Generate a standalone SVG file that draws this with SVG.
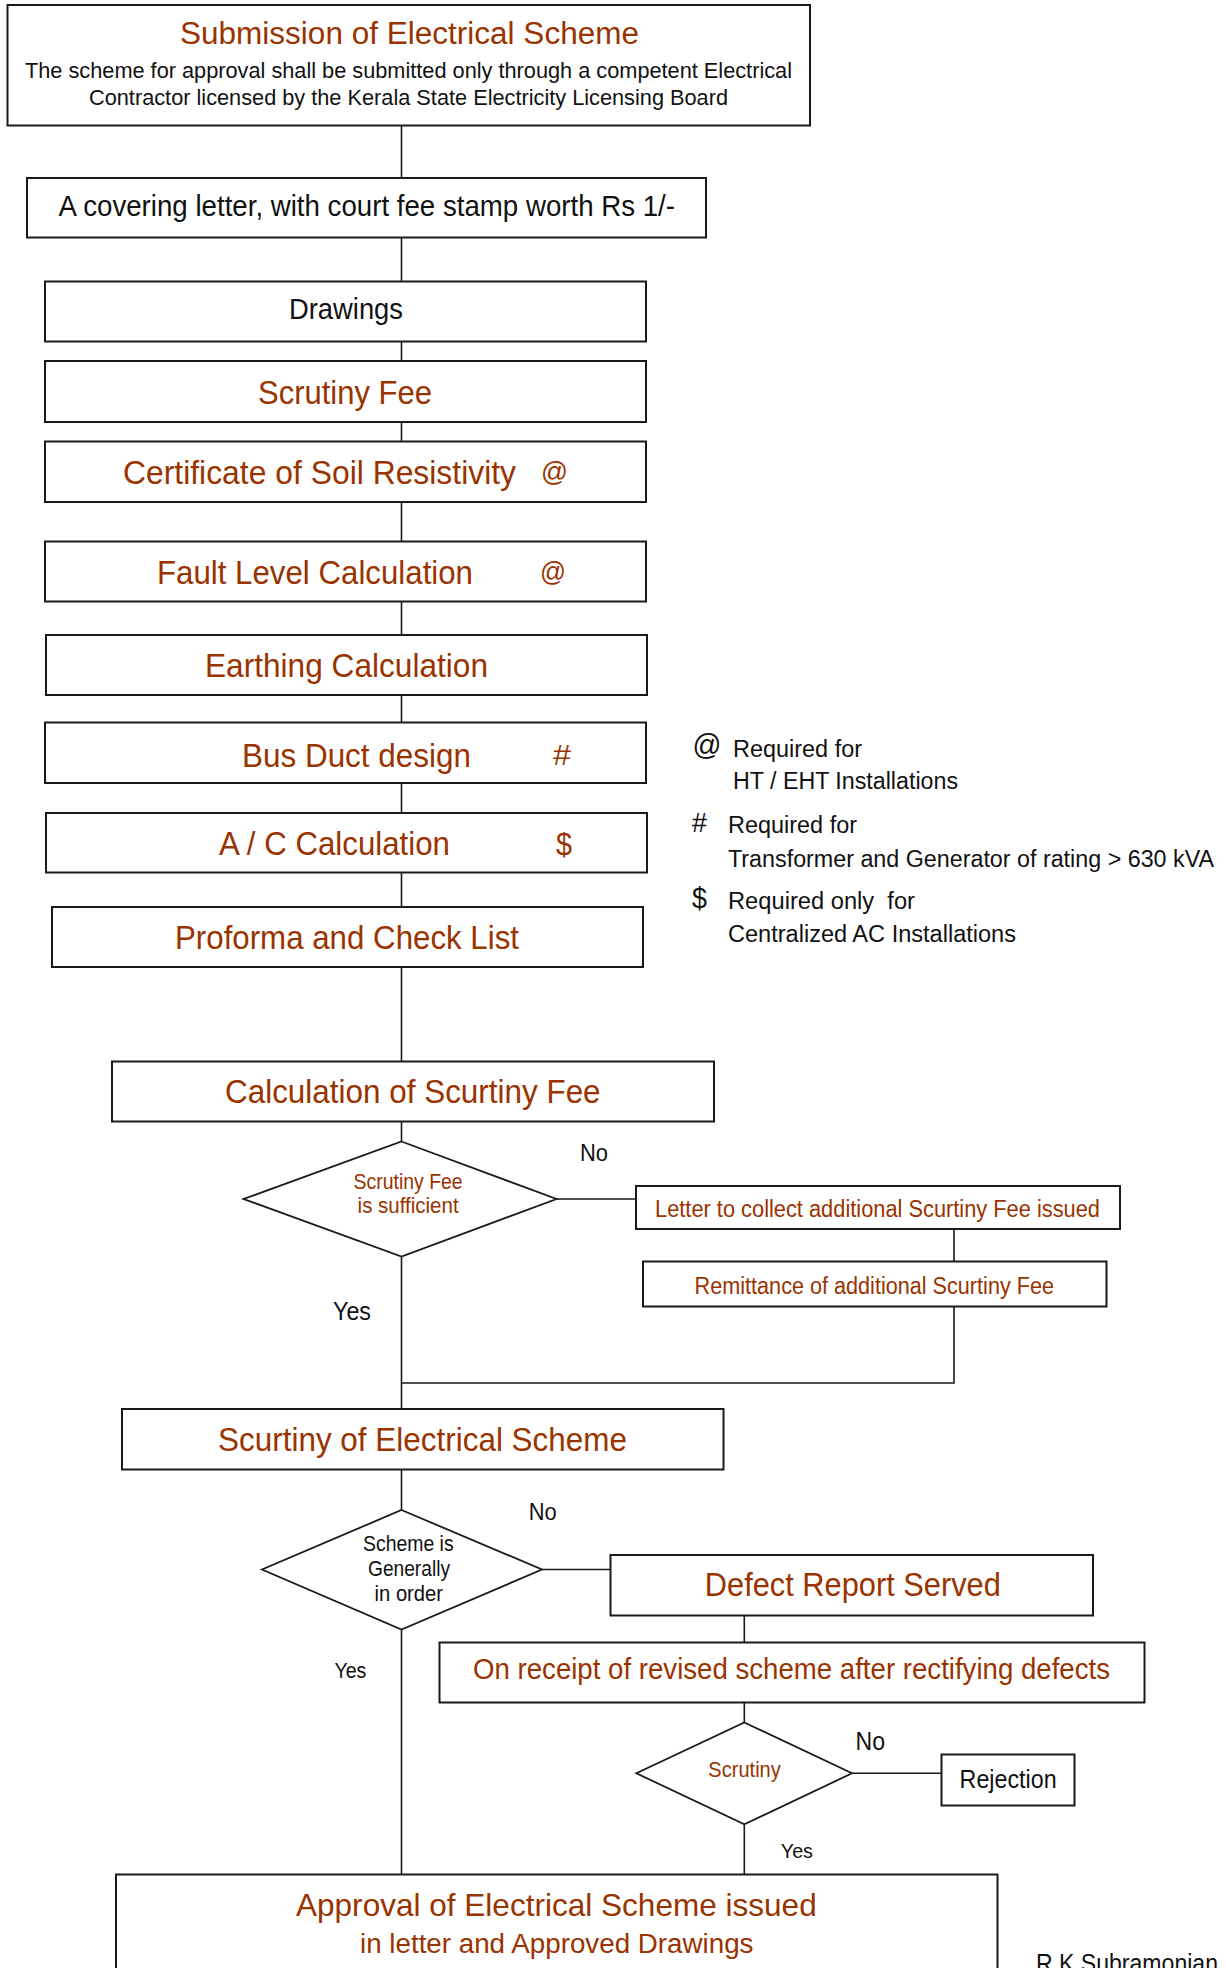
<svg xmlns="http://www.w3.org/2000/svg" width="1226" height="1968" viewBox="0 0 1226 1968">
<style>
  .box { fill: #ffffff; stroke: #1a1a1a; stroke-width: 2; }
  .dia { fill: #ffffff; stroke: #1a1a1a; stroke-width: 1.8; }
  .con { fill: none; stroke: #1a1a1a; stroke-width: 1.6; }
  text { font-family: "Liberation Sans", Arial, sans-serif; white-space: pre; }
  .br { fill: #993300; }
  .bk { fill: #111111; }
</style>
<rect width="1226" height="1968" fill="#ffffff"/>
<g id="connectors">
  <path class="con" d="M401.5 125.5 V178 M401.5 237.5 V281.5 M401.5 341.5 V361 M401.5 422 V441.5 M401.5 502 V541.5 M401.5 601.5 V635 M401.5 695 V722.5 M401.5 783 V813 M401.5 872.5 V907 M401.5 967 V1061.5 M401.5 1121.5 V1141.5 M401.5 1256.5 V1409 M401.5 1469.5 V1510 M401.5 1629.5 V1874.5"/>
  <path class="con" d="M556.5 1199 H636 M954 1229 V1261.5 M954 1306.5 V1383 H401.5"/>
  <path class="con" d="M542 1569.5 H610.5 M744.3 1615.5 V1642.5 M744.3 1702.5 V1722.5 M852 1773.3 H941.5 M744.3 1824.3 V1874.5"/>
</g>
<g id="n-submission">
  <rect class="box" x="7.5" y="5" width="802.5" height="120.5"/>
  <text class="br" x="180" y="44" font-size="31" textLength="459" lengthAdjust="spacingAndGlyphs">Submission of Electrical Scheme</text>
  <text class="bk" x="25" y="78" font-size="22.5" textLength="767" lengthAdjust="spacingAndGlyphs">The scheme for approval shall be submitted only through a competent Electrical</text>
  <text class="bk" x="89" y="105" font-size="22.5" textLength="639" lengthAdjust="spacingAndGlyphs">Contractor licensed by the Kerala State Electricity Licensing Board</text>
</g>
<g id="n-covering">
  <rect class="box" x="27" y="178" width="679" height="59.5"/>
  <text class="bk" x="58.6" y="216" font-size="29" textLength="616.4" lengthAdjust="spacingAndGlyphs">A covering letter, with court fee stamp worth Rs 1/-</text>
</g>
<g id="n-drawings">
  <rect class="box" x="45" y="281.5" width="601" height="60"/>
  <text class="bk" x="289" y="319" font-size="29" textLength="114" lengthAdjust="spacingAndGlyphs">Drawings</text>
</g>
<g id="n-scrutiny-fee">
  <rect class="box" x="45" y="361" width="601" height="61"/>
  <text class="br" x="258" y="404" font-size="33" textLength="174" lengthAdjust="spacingAndGlyphs">Scrutiny Fee</text>
</g>
<g id="n-soil">
  <rect class="box" x="45" y="441.5" width="601" height="60.5"/>
  <text class="br" x="123" y="484" font-size="33" textLength="393" lengthAdjust="spacingAndGlyphs">Certificate of Soil Resistivity</text>
  <text class="br" x="541" y="481" font-size="28" textLength="27" lengthAdjust="spacingAndGlyphs">@</text>
</g>
<g id="n-fault">
  <rect class="box" x="45" y="541.5" width="601" height="60"/>
  <text class="br" x="157" y="584" font-size="33" textLength="316" lengthAdjust="spacingAndGlyphs">Fault Level Calculation</text>
  <text class="br" x="540" y="581" font-size="28" textLength="26" lengthAdjust="spacingAndGlyphs">@</text>
</g>
<g id="n-earthing">
  <rect class="box" x="46" y="635" width="601" height="60"/>
  <text class="br" x="205" y="677" font-size="33" textLength="283" lengthAdjust="spacingAndGlyphs">Earthing Calculation</text>
</g>
<g id="n-busduct">
  <rect class="box" x="45" y="722.5" width="601" height="60.5"/>
  <text class="br" x="242" y="767" font-size="33" textLength="229" lengthAdjust="spacingAndGlyphs">Bus Duct design</text>
  <text class="br" x="553" y="765" font-size="30" textLength="18" lengthAdjust="spacingAndGlyphs">#</text>
</g>
<g id="n-ac">
  <rect class="box" x="46" y="813" width="601" height="59.5"/>
  <text class="br" x="219" y="855" font-size="33" textLength="231" lengthAdjust="spacingAndGlyphs">A / C Calculation</text>
  <text class="br" x="556" y="855" font-size="32" textLength="16" lengthAdjust="spacingAndGlyphs">$</text>
</g>
<g id="n-proforma">
  <rect class="box" x="52" y="907" width="591" height="60"/>
  <text class="br" x="175" y="949" font-size="33" textLength="344" lengthAdjust="spacingAndGlyphs">Proforma and Check List</text>
</g>
<g id="legend">
  <text class="bk" x="692" y="755" font-size="30" font-style="italic" textLength="29" lengthAdjust="spacingAndGlyphs">@</text>
  <text class="bk" x="733" y="757" font-size="23.5" textLength="129" lengthAdjust="spacingAndGlyphs">Required for</text>
  <text class="bk" x="733" y="789" font-size="23.5" textLength="225" lengthAdjust="spacingAndGlyphs">HT / EHT Installations</text>
  <text class="bk" x="692" y="832" font-size="28" textLength="15" lengthAdjust="spacingAndGlyphs">#</text>
  <text class="bk" x="728" y="833" font-size="23.5" textLength="129" lengthAdjust="spacingAndGlyphs">Required for</text>
  <text class="bk" x="728" y="867" font-size="23.5" textLength="486" lengthAdjust="spacingAndGlyphs">Transformer and Generator of rating &gt; 630 kVA</text>
  <text class="bk" x="692" y="908" font-size="30" textLength="15" lengthAdjust="spacingAndGlyphs">$</text>
  <text class="bk" x="728" y="909" font-size="23.5" textLength="187" lengthAdjust="spacingAndGlyphs">Required only  for</text>
  <text class="bk" x="728" y="942" font-size="23.5" textLength="288" lengthAdjust="spacingAndGlyphs">Centralized AC Installations</text>
</g>
<g id="n-calc-fee">
  <rect class="box" x="112" y="1061.5" width="602" height="60"/>
  <text class="br" x="225" y="1103" font-size="33.5" textLength="375.6" lengthAdjust="spacingAndGlyphs">Calculation of Scurtiny Fee</text>
</g>
<g id="n-fee-sufficient">
  <polygon class="dia" points="401.5,1141.5 556.5,1199 401.5,1256.5 243.5,1199"/>
  <text class="br" x="353.6" y="1189" font-size="22" textLength="109" lengthAdjust="spacingAndGlyphs">Scrutiny Fee</text>
  <text class="br" x="357.6" y="1213" font-size="22" textLength="101" lengthAdjust="spacingAndGlyphs">is sufficient</text>
</g>
<g id="labels-1">
  <text class="bk" x="580" y="1161" font-size="24" textLength="28" lengthAdjust="spacingAndGlyphs">No</text>
  <text class="bk" x="333" y="1320" font-size="25.5" textLength="38" lengthAdjust="spacingAndGlyphs">Yes</text>
</g>
<g id="n-letter">
  <rect class="box" x="636" y="1186" width="484" height="43"/>
  <text class="br" x="655" y="1217" font-size="23" textLength="445" lengthAdjust="spacingAndGlyphs">Letter to collect additional Scurtiny Fee issued</text>
</g>
<g id="n-remittance">
  <rect class="box" x="643" y="1261.5" width="463.5" height="45"/>
  <text class="br" x="694.6" y="1294" font-size="23.5" textLength="359.4" lengthAdjust="spacingAndGlyphs">Remittance of additional Scurtiny Fee</text>
</g>
<g id="n-scrutiny-scheme">
  <rect class="box" x="122" y="1409" width="601.5" height="60.5"/>
  <text class="br" x="218" y="1451" font-size="34" textLength="409" lengthAdjust="spacingAndGlyphs">Scurtiny of Electrical Scheme</text>
</g>
<g id="n-in-order">
  <polygon class="dia" points="401.5,1510 542,1569.5 401.5,1629.5 262,1569.5"/>
  <text class="bk" x="363" y="1551" font-size="21.5" textLength="90.6" lengthAdjust="spacingAndGlyphs">Scheme is</text>
  <text class="bk" x="368" y="1576" font-size="21.5" textLength="82" lengthAdjust="spacingAndGlyphs">Generally</text>
  <text class="bk" x="374.6" y="1601" font-size="21.5" textLength="68.4" lengthAdjust="spacingAndGlyphs">in order</text>
</g>
<g id="labels-2">
  <text class="bk" x="528.7" y="1520" font-size="24" textLength="28" lengthAdjust="spacingAndGlyphs">No</text>
  <text class="bk" x="334.4" y="1678" font-size="22" textLength="32" lengthAdjust="spacingAndGlyphs">Yes</text>
</g>
<g id="n-defect">
  <rect class="box" x="610.5" y="1555" width="482.5" height="60.5"/>
  <text class="br" x="704.8" y="1596" font-size="33" textLength="296" lengthAdjust="spacingAndGlyphs">Defect Report Served</text>
</g>
<g id="n-revised">
  <rect class="box" x="439.5" y="1642.5" width="705" height="60"/>
  <text class="br" x="473" y="1679" font-size="29" textLength="637" lengthAdjust="spacingAndGlyphs">On receipt of revised scheme after rectifying defects</text>
</g>
<g id="n-scrutiny">
  <polygon class="dia" points="744.3,1722.5 852,1773.3 744.3,1824.3 636.4,1773.3"/>
  <text class="br" x="708.3" y="1777" font-size="22" textLength="72.5" lengthAdjust="spacingAndGlyphs">Scrutiny</text>
</g>
<g id="labels-3">
  <text class="bk" x="855.5" y="1750" font-size="25" textLength="29.5" lengthAdjust="spacingAndGlyphs">No</text>
  <text class="bk" x="780.8" y="1858" font-size="20" textLength="32.2" lengthAdjust="spacingAndGlyphs">Yes</text>
</g>
<g id="n-rejection">
  <rect class="box" x="941.5" y="1754.5" width="133" height="51"/>
  <text class="bk" x="959.6" y="1788" font-size="25.5" textLength="97" lengthAdjust="spacingAndGlyphs">Rejection</text>
</g>
<g id="n-approval">
  <rect class="box" x="116" y="1874.5" width="881.5" height="110"/>
  <text class="br" x="296" y="1916" font-size="31.7" textLength="520.7" lengthAdjust="spacingAndGlyphs">Approval of Electrical Scheme issued</text>
  <text class="br" x="360" y="1953" font-size="27" textLength="393.5" lengthAdjust="spacingAndGlyphs">in letter and Approved Drawings</text>
</g>
<g id="author">
  <text class="bk" x="1036" y="1972" font-size="26" textLength="182" lengthAdjust="spacingAndGlyphs">R K Subramonian</text>
</g>
</svg>
